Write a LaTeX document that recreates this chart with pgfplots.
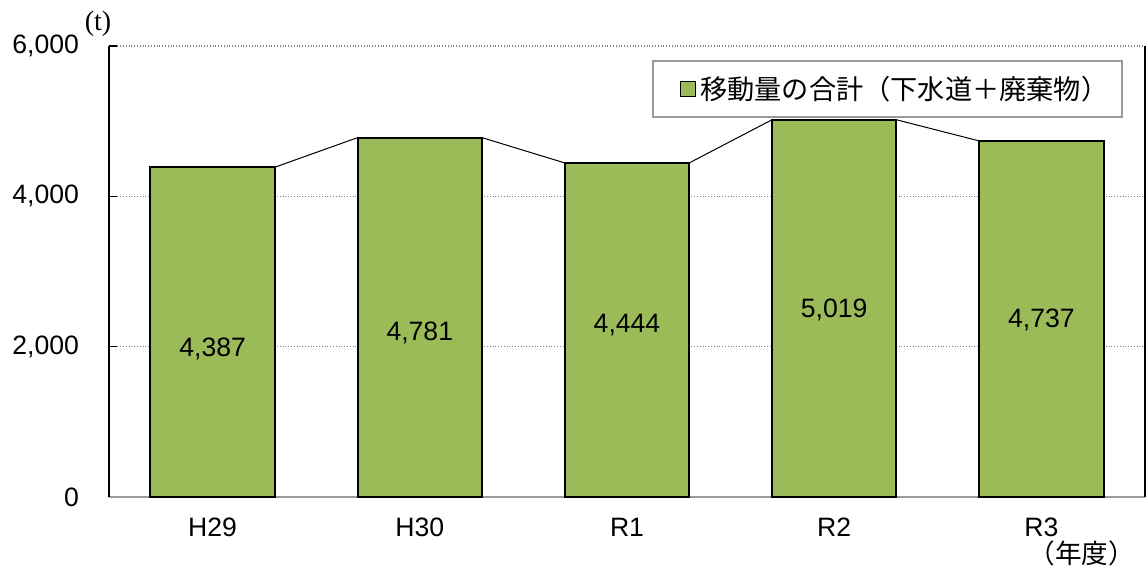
\documentclass[border=0pt]{standalone}
\usepackage{pgfplots}
\pgfplotsset{compat=1.18}
\usepackage{fontspec}
\setmainfont{Liberation Sans}
\newfontfamily\jp{Noto Sans CJK JP}
\newfontfamily\serifff{Liberation Serif}
\definecolor{bargreen}{HTML}{9BBB59}
\begin{document}
\begin{tikzpicture}
\useasboundingbox (-54.5pt,-37pt) rectangle (518.5pt,248.5pt);
\begin{axis}[
  at={(0,0)}, anchor=south west,
  scale only axis, width=518pt, height=225.5pt,
  xmin=-0.5, xmax=4.5, ymin=0, ymax=6000,
  axis x line*=bottom, axis y line*=left,
  x axis line style={draw=gray!80, line width=0.8pt, -},
  y axis line style={draw=black, line width=0.8pt, -},
  xtick={0,1,2,3,4}, xticklabels={H29,H30,R1,R2,R3},
  extra x ticks={0.5,1.5,2.5,3.5},
  extra x tick labels={},
  extra x tick style={major tick length=7pt, tick style={draw=gray!80, line width=0.8pt}, xticklabel=\empty, grid=none},
  x tick style={draw=none},
  ytick={0,2000,4000,6000},
  y tick style={draw=black, line width=0.8pt},
  tick align=inside, major tick length=4pt,
  ymajorgrids, grid style={densely dotted, gray, line width=0.6pt},
  /pgf/number format/assume math mode=true,
  /pgf/number format/1000 sep={,},
  scaled y ticks=false,
  tick label style={font=\fontsize{13.3}{15}\selectfont},
  xticklabel style={yshift=-7pt},
  yticklabel style={xshift=-11.5pt},
  legend style={at={(rel axis cs:0.979,0.969)}, anchor=north east,
    draw=gray!80, line width=1pt, font=\jp\fontsize{13.6}{15}\selectfont,
    inner xsep=5pt, inner ysep=5.5pt, legend cell align=left},
  legend image code/.code={\path[draw=none,fill=none] (-9pt,0pt) -- (0pt,0pt);\draw[fill=bargreen, draw=black, line width=0.7pt] (0pt,-3.75pt) rectangle (7.5pt,3.75pt);},
  clip=false,
]
\addplot[ybar, bar width=0.6, fill=bargreen, draw=black, line width=1pt, bar shift=0pt]
  coordinates {(0,4387) (1,4781) (2,4444) (3,5019) (4,4737)};
\addlegendentry{移動量の合計（下水道＋廃棄物）}
\addplot[black, line width=0.5pt, forget plot] coordinates {(0.3,4387) (0.7,4781)};
\addplot[black, line width=0.5pt, forget plot] coordinates {(1.3,4781) (1.7,4444)};
\addplot[black, line width=0.5pt, forget plot] coordinates {(2.3,4444) (2.7,5019)};
\addplot[black, line width=0.5pt, forget plot] coordinates {(3.3,5019) (3.7,4737)};
\addplot[only marks, mark=none, forget plot, nodes near coords, point meta=explicit symbolic,
  nodes near coords style={anchor=center, font=\fontsize{13.3}{15}\selectfont, text=black}]
  table[meta=lab] {
x y lab
0 1969 {4,387}
1 2182 {4,781}
2 2288 {4,444}
3 2488 {5,019}
4 2355 {4,737}
};
\draw[black, line width=0.6pt] (rel axis cs:1,0) -- (rel axis cs:1,1);
\node[font=\serifff\fontsize{14}{16}\selectfont] at (rel axis cs:-0.0106,1.049) {(t)};
\node[font=\jp\fontsize{13.3}{15}\selectfont] at (rel axis cs:0.939,-0.126) {（年度）};
\end{axis}
\end{tikzpicture}
\end{document}
